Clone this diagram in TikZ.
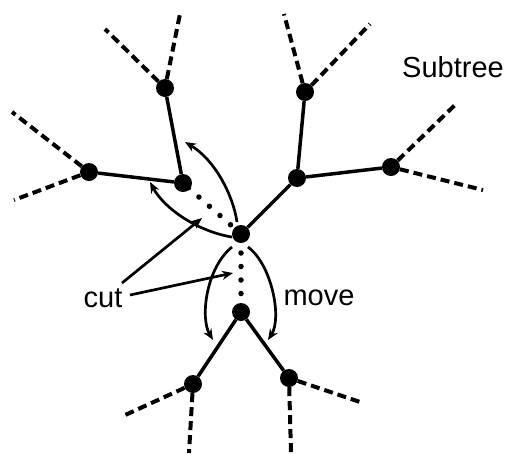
\documentclass[tikz,border=0pt]{standalone}
\usepackage{fontspec}
\setmainfont{Liberation Sans}
\usetikzlibrary{arrows.meta}
\begin{document}
\begin{tikzpicture}[x=1pt,y=-1pt,
  vertex/.style={circle,fill=black,inner sep=0pt,minimum size=18pt},
  edge/.style={line width=3.5pt},
  leaf/.style={line width=4pt,dash pattern=on 9pt off 5pt},
  cutline/.style={line width=5.5pt,line cap=round},
  arc/.style={line width=2.7pt,-{Stealth[length=11pt,width=9pt]}},
  lbl/.style={font=\fontsize{29}{34}\selectfont,anchor=base,inner sep=0pt}]
\useasboundingbox (0,0) rectangle (508,453);

% inner vertices
\node[vertex] (C)  at (241,234) {};
\node[vertex] (A)  at (183,183) {};
\node[vertex] (B)  at (297,178) {};
\node[vertex] (D)  at (241,312) {};
\node[vertex] (N1) at (165,88)  {};
\node[vertex] (N2) at (89,172)  {};
\node[vertex] (N3) at (305,92)  {};
\node[vertex] (N4) at (391,167) {};
\node[vertex] (E)  at (193,384) {};
\node[vertex] (F)  at (289,378) {};

% free ends of the dashed subtrees
\coordinate (n1a) at (105,29);
\coordinate (n1b) at (180,14);
\coordinate (n2a) at (12,112);
\coordinate (n2b) at (14,200);
\coordinate (n3a) at (284,14);
\coordinate (n3b) at (370,24);
\coordinate (n4a) at (456,104);
\coordinate (n4b) at (483,190);
\coordinate (ea)  at (123,416);
\coordinate (eb)  at (189,453);
\coordinate (fa)  at (360,402);
\coordinate (fb)  at (291,453);

% solid edges
\draw[edge] (A) -- (N1);
\draw[edge] (A) -- (N2);
\draw[edge] (C) -- (B);
\draw[edge] (B) -- (N3);
\draw[edge] (B) -- (N4);
\draw[edge] (D) -- (E);
\draw[edge] (D) -- (F);

% dashed subtrees
\draw[leaf] (N1) -- (n1a);
\draw[leaf] (N1) -- (n1b);
\draw[leaf] (N2) -- (n2a);
\draw[leaf] (N2) -- (n2b);
\draw[leaf] (N3) -- (n3a);
\draw[leaf] (N3) -- (n3b);
\draw[leaf] (N4) -- (n4a);
\draw[leaf] (N4) -- (n4b);
\draw[leaf] (E) -- (ea);
\draw[leaf] (E) -- (eb);
\draw[leaf] (F) -- (fa);
\draw[leaf] (F) -- (fb);

% cut edges (dotted)
\draw[cutline,dash pattern=on 0pt off 14pt] (C.center) -- (A.center);
\draw[cutline,dash pattern=on 0pt off 13.5pt,dash phase=8pt] (C.center) -- (D.center);

% move arrows
\coordinate (u1s) at (237,222); \coordinate (u1e) at (185,142);
\coordinate (u2s) at (232,237); \coordinate (u2e) at (150,182);
\coordinate (d1s) at (232,247); \coordinate (d1e) at (213,340);
\coordinate (d2s) at (248,247); \coordinate (d2e) at (268,340);
\draw[arc] (u1s) .. controls (233,195) and (215,160) .. (u1e);
\draw[arc] (u2s) .. controls (200,232) and (165,210) .. (u2e);
\draw[arc] (d1s) .. controls (206,268) and (200,318) .. (d1e);
\draw[arc] (d2s) .. controls (272,265) and (282,318) .. (d2e);

% labels
\node[lbl] (cut)  at (103,307) {cut};
\node[lbl] (move) at (319,305) {move};
\node[lbl] (sub)  at (453,77)  {Subtree};

% pointers from the label to the cut edges
\coordinate (c1) at (202,218);
\coordinate (c2) at (233,273);
\draw[arc] (122,283) -- (c1);
\draw[arc] (130,295) -- (c2);
\end{tikzpicture}
\end{document}
